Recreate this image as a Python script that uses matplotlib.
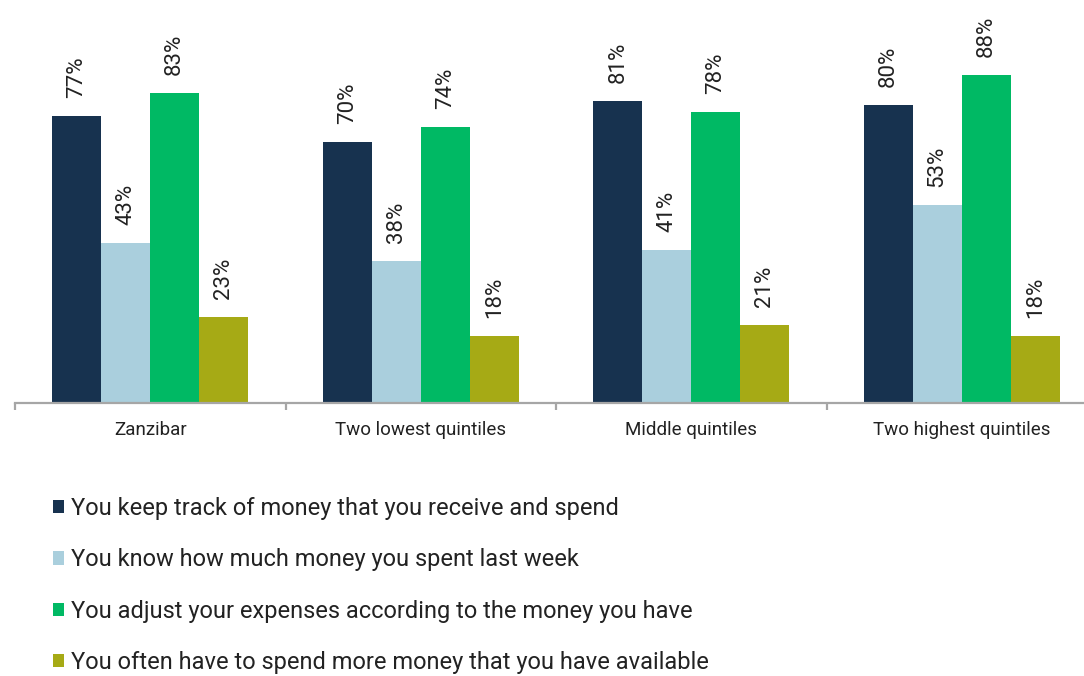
import matplotlib
matplotlib.use("Agg")
import matplotlib.pyplot as plt
from matplotlib.patches import Patch
import numpy as np

plt.rcParams['font.family'] = ['Roboto', 'DejaVu Sans']

groups = ['Zanzibar', 'Two lowest quintiles', 'Middle quintiles', 'Two highest quintiles']
series = ['You keep track of money that you receive and spend',
          'You know how much money you spent last week',
          'You adjust your expenses according to the money you have',
          'You often have to spend more money that you have available']
keep_track = [77, 70, 81, 80]
know_spent = [43, 38, 41, 53]
adjust_exp = [83, 74, 78, 88]
spend_more = [23, 18, 21, 18]
colors = ['#17324F', '#AACFDD', '#00B964', '#A6AA15']

text_col = '#222222'
fig = plt.figure(figsize=(10.84, 6.76), dpi=100)
ax = fig.add_axes([15/1084, 1 - 403/676, 1082/1084, 373/676])

x = np.arange(len(groups)) + 0.5
w = 0.181
for i, vals in enumerate([keep_track, know_spent, adjust_exp, spend_more]):
    pos = x + (i - 1.5) * w
    ax.bar(pos, vals, width=w, color=colors[i], linewidth=0)
    for p, v in zip(pos, vals):
        ax.annotate(f'{v}%', (p, v), xytext=(0, 13), textcoords='offset points',
                    rotation=90, ha='center', va='bottom', fontsize=16,
                    color=text_col)

ax.set_xlim(0, 4)
ax.set_ylim(0, 100)
for s in ['top', 'right', 'left']:
    ax.spines[s].set_visible(False)
ax.spines['bottom'].set_color('#A6A6A6')
ax.spines['bottom'].set_linewidth(1.6)
ax.set_yticks([])

# group boundaries get the tick marks, group centres get the labels
ax.set_xticks(np.arange(5))
ax.set_xticklabels([])
ax.tick_params(axis='x', which='major', length=5, width=1.6, color='#A6A6A6')
ax.set_xticks(x, minor=True)
ax.set_xticklabels(groups, minor=True, fontsize=13.5, color=text_col)
ax.tick_params(axis='x', which='minor', length=0, pad=13)

handles = [Patch(facecolor=c, edgecolor='none') for c in colors]
fig.legend(handles, series, loc='upper left', bbox_to_anchor=(53/1084, 1 - 497/676),
           frameon=False, fontsize=17, handlelength=0.48, handleheight=0.48,
           handletextpad=0.28, labelspacing=1.2, borderpad=0, borderaxespad=0,
           labelcolor=text_col)

fig.savefig('out.png', dpi=100)
